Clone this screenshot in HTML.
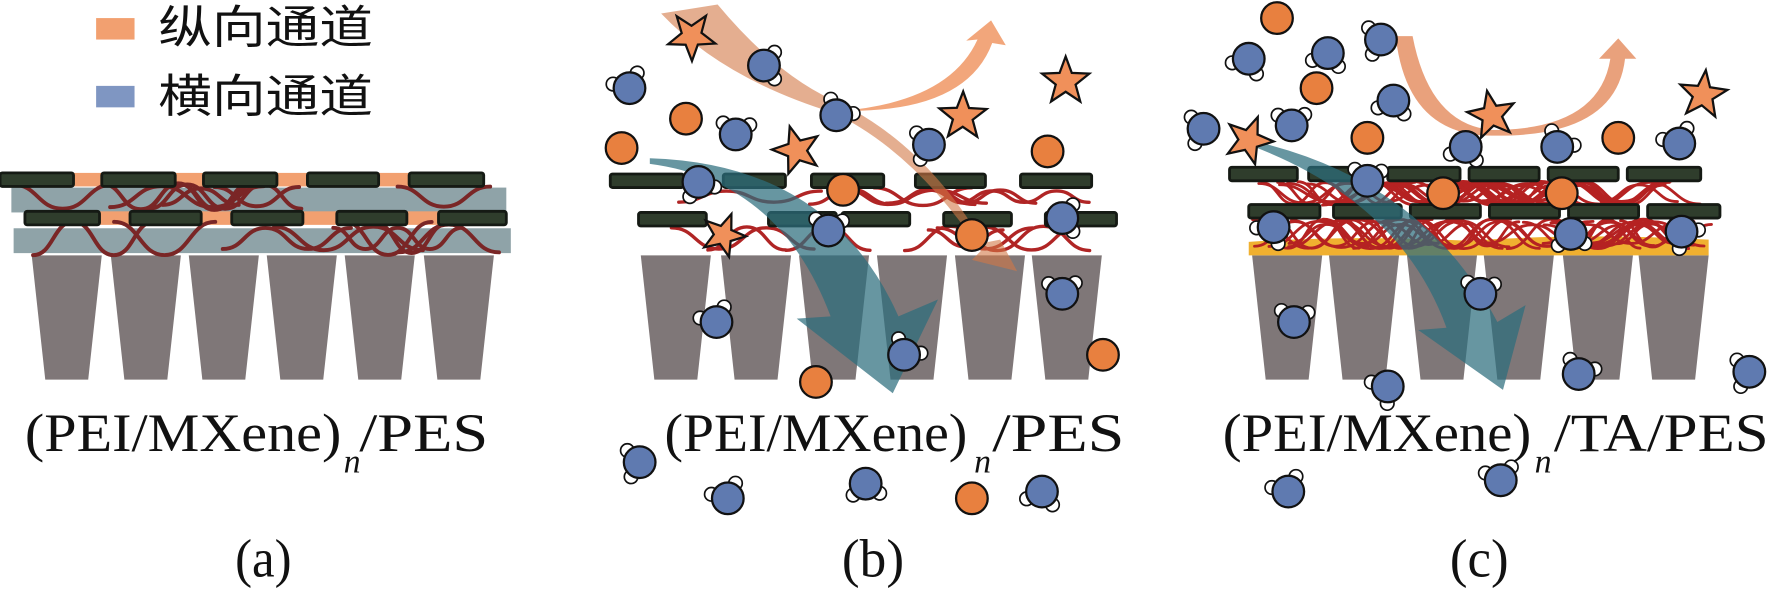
<!DOCTYPE html>
<html><head><meta charset="utf-8"><style>
html,body{margin:0;padding:0;background:#fff;}
svg{display:block}
</style></head><body>
<svg id="s" width="1772" height="591" viewBox="0 0 1568 523" xmlns="http://www.w3.org/2000/svg">
<rect width="1568" height="523" fill="#fff"/>
<g id="g"></g>
<rect x="85" y="16" width="34" height="19" fill="#f2a070"/>
<rect x="85" y="76" width="34" height="19" fill="#7f96c2"/>
<text x="140" y="38" font-family="'Liberation Sans','Noto Sans CJK SC',sans-serif" font-size="40" textLength="190" lengthAdjust="spacingAndGlyphs" fill="#111">纵向通道</text>
<text x="140" y="99" font-family="'Liberation Sans','Noto Sans CJK SC',sans-serif" font-size="40" textLength="190" lengthAdjust="spacingAndGlyphs" fill="#111">横向通道</text>
<g font-family="'Liberation Serif',serif" font-size="48" fill="#111">
<text x="22" y="399" textLength="280" lengthAdjust="spacingAndGlyphs">(PEI/MXene)</text>
<text x="304" y="418" font-size="30" font-style="italic">n</text>
<text x="318" y="399" textLength="114" lengthAdjust="spacingAndGlyphs">/PES</text>
<text x="588" y="399" textLength="268" lengthAdjust="spacingAndGlyphs">(PEI/MXene)</text>
<text x="862" y="418" font-size="30" font-style="italic">n</text>
<text x="878" y="399" textLength="117" lengthAdjust="spacingAndGlyphs">/PES</text>
<text x="1082" y="399" textLength="273" lengthAdjust="spacingAndGlyphs">(PEI/MXene)</text>
<text x="1358" y="418" font-size="30" font-style="italic">n</text>
<text x="1375" y="399" textLength="190" lengthAdjust="spacingAndGlyphs">/TA/PES</text>
<text x="208" y="510" textLength="50" lengthAdjust="spacingAndGlyphs">(a)</text>
<text x="745" y="510" textLength="55" lengthAdjust="spacingAndGlyphs">(b)</text>
<text x="1283" y="510" textLength="52" lengthAdjust="spacingAndGlyphs">(c)</text>
</g>
</svg>
<script>
var g=document.getElementById('g'),h='';
function R(x,y,w,hh,f){h+='<rect x="'+x+'" y="'+y+'" width="'+w+'" height="'+hh+'" fill="'+f+'"/>';}
function sheet(x1,x2,y,hh){h+='<rect x="'+x1+'" y="'+y+'" width="'+(x2-x1)+'" height="'+hh+'" rx="2" fill="#2f3d2c" stroke="#151a14" stroke-width="2.5"/>';}
function trap(xs,top,bot){xs.forEach(function(x){var w=62,bw=38,c=x+w/2;h+='<polygon points="'+x+','+top+' '+(x+w)+','+top+' '+(c+bw/2)+','+bot+' '+(c-bw/2)+','+bot+'" fill="#7f7778"/>';});}
var seed=7;function rnd(){seed=(seed*9301+49297)%233280;return seed/233280;}
function waves(x1,x2,y1,y2,n,col,w){for(var i=0;i<n;i++){var x=x1+rnd()*(x2-x1-80),hw=28+rnd()*18,ym=(y1+y2)/2,amp=(y2-y1)/2*(0.6+rnd()*0.4);var up=rnd()<0.5?1:-1;var y=ym+up*amp;var d='M'+x.toFixed(1)+','+y.toFixed(1);var k=2+Math.floor(rnd()*3);var first=true;for(var j=0;j<k;j++){x+=hw;up=-up;var ny=ym+up*amp;if(x>x2)break;if(first){d+=' C'+(x-hw*0.5).toFixed(1)+','+y.toFixed(1)+' '+(x-hw*0.5).toFixed(1)+','+ny.toFixed(1)+' '+x.toFixed(1)+','+ny.toFixed(1);first=false;}else d+=' S'+(x-hw*0.5).toFixed(1)+','+ny.toFixed(1)+' '+x.toFixed(1)+','+ny.toFixed(1);y=ny;}h+='<path d="'+d+'" fill="none" stroke="'+col+'" stroke-width="'+w+'" stroke-linecap="round"/>';}}
// panel a
trap([28,98,167,236,305,375],226,336);
R(10,166,438,22,'#8fa3a8');R(12,202,440,22,'#8fa3a8');
[[65,90],[155,180],[245,272],[335,362]].forEach(function(a){R(a[0],153,a[1]-a[0],12,'#f2a070');});
[[88,115],[178,205],[268,298],[360,388]].forEach(function(a){R(a[0],187,a[1]-a[0],12,'#f2a070');});
seed=3;waves(5,450,162,186,8,'#7a2626',3.5);waves(20,455,196,226,8,'#7a2626',3.5);
[[0,65],[90,155],[180,245],[272,335],[362,428]].forEach(function(a){sheet(a[0],a[1],153,12);});
[[22,88],[115,178],[205,268],[298,360],[388,448]].forEach(function(a){sheet(a[0],a[1],187,12);});
// panel b
trap([567,638,707,776,845,913],226,336);
seed=11;waves(560,985,166,182,7,'#b02525',3);waves(565,990,200,222,7,'#b02525',3);
[[540,605],[640,695],[718,782],[810,872],[903,966]].forEach(function(a){sheet(a[0],a[1],154,12);});
[[565,625],[680,740],[745,805],[835,895],[925,988]].forEach(function(a){sheet(a[0],a[1],188,12);});
// panel c
trap([1108,1176,1245,1313,1383,1450],226,336);
h+='<path d="M1105,226 L1105,214 Q1200,208 1300,213 Q1400,206 1512,212 L1512,226Z" fill="#f0b030"/>';
seed=5;waves(1100,1515,160,182,34,'#b52222',2.5);waves(1105,1520,194,220,34,'#b52222',2.5);
[[1088,1148],[1158,1218],[1228,1292],[1300,1362],[1370,1432],[1440,1505]].forEach(function(a){sheet(a[0],a[1],148,12);});
[[1105,1168],[1180,1240],[1248,1310],[1318,1380],[1388,1450],[1458,1522]].forEach(function(a){sheet(a[0],a[1],181,12);});
// arrows
h+='<path d="M585,12 L635,4 Q690,70 745,92 Q820,130 870,215 L885,212 L900,240 L860,230 L868,222 Q810,135 738,100 Q640,70 585,12Z" fill="rgba(210,120,70,0.6)"/>';
h+='<path d="M745,98 Q840,90 865,35 L855,36 L877,18 L890,40 L878,38 Q855,100 745,98Z" fill="rgba(240,150,100,0.85)"/>';
h+='<path d="M575,145 Q690,160 735,280 L705,282 L790,348 L830,265 L795,280 Q735,145 575,140Z" fill="rgba(45,110,125,0.72)"/>';
h+='<path d="M1235,32 L1250,32 Q1265,110 1320,115 Q1415,115 1425,52 L1415,52 L1432,34 L1448,52 L1438,52 Q1430,122 1320,120 Q1245,120 1235,32Z" fill="rgba(225,130,80,0.75)"/>';
h+='<path d="M1110,130 Q1240,180 1280,290 L1255,292 L1330,345 L1350,270 L1325,285 Q1260,160 1110,125Z" fill="rgba(45,110,125,0.72)"/>';
function water(x,y,a){var r=14,s=6;[a-0.9,a+0.9].forEach(function(t){h+='<circle cx="'+(x+Math.cos(t)*15)+'" cy="'+(y+Math.sin(t)*15)+'" r="'+s+'" fill="#fff" stroke="#111" stroke-width="1.5"/>';});h+='<circle cx="'+x+'" cy="'+y+'" r="'+r+'" fill="#5f7ab0" stroke="#111" stroke-width="2"/>';}
function ion(x,y){h+='<circle cx="'+x+'" cy="'+y+'" r="14" fill="#e8803f" stroke="#111" stroke-width="2"/>';}
function star(x,y,r,rot){var p=[];for(var i=0;i<10;i++){var t=rot+i*Math.PI/5,rr=i%2?r*0.42:r;p.push((x+Math.cos(t)*rr).toFixed(1)+','+(y+Math.sin(t)*rr).toFixed(1));}h+='<polygon points="'+p.join(' ')+'" fill="#f0905a" stroke="#111" stroke-width="2"/>';}
[[557,78,-2],[676,58,0],[651,119,-1.5],[740,102,-1],[822,128,3],[618,161,1.2],[733,204,-1.5],[940,193,0],[940,260,-1.6],[634,285,-2],[566,409,3],[644,441,-2],[766,428,1.5],[922,435,1.8],[800,314,-1]].forEach(function(w){water(w[0],w[1],w[2]);});
[[607,105],[550,131],[927,134],[746,168],[860,208],[976,314],[722,338],[860,441]].forEach(function(o){ion(o[0],o[1]);});
[[612,32,22,0.3],[705,133,22,-0.6],[852,103,22,-0.3],[943,72,22,-1.57],[640,208,20,-1.2]].forEach(function(s){star(s[0],s[1],s[2],s[3]);});
[[1105,52,2],[1175,47,1.8],[1222,35,3],[1233,89,1.8],[1065,114,3],[1143,111,-1.6],[1297,130,1.8],[1378,130,-1],[1486,127,-2],[1210,160,-1.5],[1127,201,2.2],[1390,207,1.5],[1488,205,0.8],[1310,260,-1.5],[1145,285,-1.5],[1228,342,2.5],[1397,331,-1.2],[1548,329,3],[1140,435,-2],[1328,425,-1.8]].forEach(function(w){water(w[0],w[1],w[2]);});
[[1130,16],[1165,78],[1210,122],[1432,122],[1277,171],[1382,171]].forEach(function(o){ion(o[0],o[1]);});
[[1105,124,22,-1.2],[1320,102,22,-0.5],[1507,84,22,-0.2]].forEach(function(s){star(s[0],s[1],s[2],s[3]);});
g.innerHTML=h;
</script>
</body></html>
